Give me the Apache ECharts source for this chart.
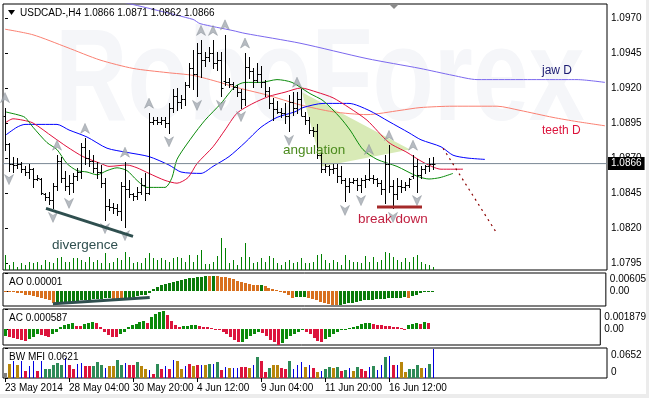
<html>
<head>
<meta charset="utf-8">
<script src="https://cdn.jsdelivr.net/npm/echarts@6/dist/echarts.min.js"></script>
<style>
  body { margin: 0; background: #fff; }
  #chart { width: 649px; height: 398px; }
</style>
</head>
<body>
<div id="chart"></div>
<script>
// ---- price bars (H4), index 0 = 23 May 2014 00:00
const barOpen = [1.0900,1.0880,1.0866,1.0865,1.0866,1.0862,1.0860,1.0862,1.0855,1.0855,
  1.0844,1.0842,1.0840,1.0850,1.0868,1.0856,1.0850,1.0852,1.0857,1.0860,
  1.0878,1.0870,1.0868,1.0863,1.0860,1.0852,1.0836,1.0835,1.0834,1.0832,
  1.0850,1.0848,1.0844,1.0843,1.0846,1.0851,1.0845,1.0896,1.0897,1.0896,
  1.0897,1.0895,1.0906,1.0914,1.0910,1.0912,1.0922,1.0934,1.0930,1.0945,
  1.0940,1.0942,1.0945,1.0938,1.0940,1.0925,1.0924,1.0923,1.0921,1.0917,
  1.0912,1.0935,1.0932,1.0926,1.0930,1.0924,1.0918,1.0909,1.0905,1.0903,
  1.0902,1.0900,1.0910,1.0906,1.0912,1.0900,1.0897,1.0890,1.0889,1.0872,
  1.0862,1.0864,1.0862,1.0863,1.0857,1.0854,1.0850,1.0853,1.0854,1.0851,
  1.0854,1.0855,1.0856,1.0855,1.0852,1.0848,1.0866,1.0850,1.0844,1.0850,
  1.0849,1.0851,1.0857,1.0864,1.0858,1.0862,1.0864,1.0866];
const barHigh = [1.0906,1.0881,1.0871,1.0870,1.0867,1.0864,1.0866,1.0863,1.0858,1.0856,
  1.0845,1.0846,1.0852,1.0872,1.0871,1.0861,1.0858,1.0859,1.0863,1.0881,
  1.0884,1.0876,1.0872,1.0867,1.0865,1.0856,1.0841,1.0838,1.0837,1.0853,
  1.0867,1.0854,1.0845,1.0849,1.0856,1.0859,1.0902,1.0899,1.0899,1.0899,
  1.0899,1.0909,1.0919,1.0920,1.0915,1.0924,1.0938,1.0947,1.0952,1.0954,
  1.0946,1.0949,1.0954,1.0946,1.0946,1.0958,1.0927,1.0924,1.0922,1.0919,
  1.0945,1.0942,1.0934,1.0938,1.0936,1.0926,1.0921,1.0913,1.0911,1.0906,
  1.0909,1.0915,1.0917,1.0917,1.0919,1.0903,1.0899,1.0892,1.0894,1.0874,
  1.0866,1.0865,1.0866,1.0866,1.0864,1.0856,1.0856,1.0856,1.0856,1.0856,
  1.0858,1.0869,1.0858,1.0856,1.0854,1.0872,1.0879,1.0854,1.0856,1.0854,
  1.0853,1.0856,1.0872,1.0869,1.0864,1.0865,1.0870,1.0871];
const barLow = [1.0876,1.0861,1.0860,1.0863,1.0860,1.0858,1.0856,1.0849,1.0854,1.0844,
  1.0840,1.0837,1.0834,1.0847,1.0853,1.0847,1.0844,1.0846,1.0854,1.0856,
  1.0866,1.0864,1.0860,1.0856,1.0849,1.0826,1.0833,1.0831,1.0829,1.0826,
  1.0821,1.0842,1.0840,1.0841,1.0844,1.0840,1.0844,1.0894,1.0894,1.0894,
  1.0892,1.0888,1.0903,1.0904,1.0906,1.0908,1.0921,1.0919,1.0914,1.0928,
  1.0936,1.0939,1.0934,1.0933,1.0914,1.0922,1.0921,1.0919,1.0914,1.0906,
  1.0908,1.0927,1.0921,1.0924,1.0921,1.0914,1.0906,1.0897,1.0902,1.0899,
  1.0895,1.0889,1.0901,1.0902,1.0901,1.0894,1.0888,1.0886,1.0870,1.0860,
  1.0860,1.0858,1.0859,1.0853,1.0852,1.0839,1.0846,1.0852,1.0847,1.0846,
  1.0849,1.0854,1.0852,1.0850,1.0844,1.0838,1.0846,1.0834,1.0841,1.0846,
  1.0847,1.0849,1.0856,1.0846,1.0856,1.0859,1.0861,1.0862];
const barClose = [1.0880,1.0866,1.0865,1.0866,1.0862,1.0860,1.0862,1.0855,1.0856,1.0845,
  1.0842,1.0840,1.0850,1.0868,1.0856,1.0850,1.0852,1.0857,1.0860,1.0878,
  1.0870,1.0868,1.0863,1.0860,1.0852,1.0836,1.0835,1.0834,1.0832,1.0850,
  1.0848,1.0844,1.0843,1.0846,1.0851,1.0845,1.0896,1.0897,1.0896,1.0897,
  1.0895,1.0906,1.0914,1.0910,1.0912,1.0922,1.0934,1.0930,1.0945,1.0940,
  1.0942,1.0945,1.0938,1.0940,1.0920,1.0924,1.0923,1.0921,1.0917,1.0912,
  1.0935,1.0932,1.0926,1.0930,1.0924,1.0918,1.0909,1.0905,1.0903,1.0902,
  1.0900,1.0910,1.0906,1.0912,1.0900,1.0897,1.0890,1.0889,1.0872,1.0862,
  1.0864,1.0862,1.0863,1.0857,1.0854,1.0850,1.0853,1.0854,1.0851,1.0854,
  1.0855,1.0856,1.0855,1.0852,1.0848,1.0866,1.0850,1.0844,1.0850,1.0849,
  1.0851,1.0855,1.0864,1.0858,1.0862,1.0864,1.0866,1.0866];
const tickVolume = [4500,1500,2400,900,2100,1500,2400,2100,2400,1500,
  3000,2400,2100,3600,3900,2400,2400,3600,3600,3000,
  2400,3900,2400,3000,2100,5100,2100,2400,3600,3000,
  5400,3900,2100,2400,2100,3600,5100,3600,3000,3600,
  3000,2400,3600,3900,3600,2400,4500,2400,4500,6000,
  1800,1800,2400,4200,9600,6600,2100,3000,1500,3900,
  8100,3900,2100,2400,3600,2400,4200,3600,2100,1500,
  2400,3000,2100,2400,3600,2100,2100,2400,4500,4800,
  3000,2100,3000,2400,1500,4500,3000,2400,2400,2100,
  4200,2400,3900,2400,3000,5400,5100,3900,3000,2400,
  3600,2400,3900,4500,2400,1800,1500,900];

// ---- Alligator H4 and D lines: [bar index, price]
const jawH4 = [[0,1.0886],[3,1.0892],[5,1.0894],[13,1.0894],[16,1.0890],[20.5,1.0885],[25.5,1.0877],[30.5,1.0874],[36,1.0871],[41,1.0865],[44,1.0860],[49,1.0859],[52,1.0864],[56,1.0871],[60,1.0881],[64,1.0892],[68,1.0899],[72.5,1.0903],[74.5,1.0906],[79.5,1.0909],[86,1.0909],[91,1.0904],[96,1.0896],[101,1.0888],[104,1.0883],[109,1.0878],[112,1.0872],[115.5,1.0870],[120,1.0869]];
const teethH4 = [[0,1.0895],[2,1.0898],[4.5,1.0897],[7,1.0895],[12,1.0885],[15.5,1.0878],[19.5,1.0871],[24,1.0866],[26,1.0864],[30.5,1.0865],[33,1.0863],[36,1.0859],[40,1.0854],[43,1.0852],[45.75,1.0856],[48,1.0866],[52,1.0878],[55,1.0890],[58,1.0902],[62,1.0909],[66,1.0914],[70,1.0917],[74,1.0920],[78,1.0917],[82,1.0913],[86,1.0906],[90.5,1.0897],[96,1.0881],[100.5,1.0874],[104.5,1.0867],[109,1.0862],[114.5,1.0862]];
const lipsH4 = [[0,1.0903],[3,1.0901],[5,1.0899],[7,1.0892],[10.5,1.0881],[13,1.0876],[15.5,1.0866],[18,1.0861],[20.5,1.0860],[23,1.0858],[25.5,1.0861],[28,1.0863],[30.5,1.0861],[33,1.0854],[35.5,1.0849],[40,1.0849],[41.75,1.0856],[43,1.0869],[46.75,1.0885],[50,1.0897],[54,1.0909],[57.5,1.0921],[60,1.0924],[64,1.0924],[68,1.0926],[71.75,1.0924],[76.25,1.0916],[79.5,1.0911],[83.75,1.0899],[86.25,1.0890],[89.5,1.0876],[93,1.0869],[98,1.0864],[103,1.0857],[106,1.0855],[108.75,1.0856],[112,1.0859]];
const jawD = [[30,1.0981],[47,1.0969],[48.75,1.0966],[57,1.0961],[60,1.0959],[73.75,1.0952],[90.5,1.0941],[103.75,1.0934],[112,1.0929],[118,1.0926],[128.75,1.0926],[137,1.0926],[143,1.0926],[150,1.0924]];
const teethD = [[0,1.0962],[7,1.0958],[15.5,1.0949],[23.75,1.0940],[32,1.0934],[40.5,1.0931],[47,1.0929],[53.75,1.0924],[57,1.0921],[65.5,1.0915],[73.75,1.0908],[82,1.0903],[90.5,1.0901],[98.75,1.0904],[103.75,1.0906],[112,1.0907],[123,1.0907],[128.75,1.0904],[137,1.0899],[143,1.0896],[150,1.0893]];

const upFractalBars = [0,13,20,30,36,49,52,55,60,73,91,96,102];
const downFractalBars = [1,12,16,25,30,41,48,54,59,71,85,89,97,103];

// ---- drawn objects
const currentPrice = 1.0866;
const priceLineSpan = [-0.5, 150.5];
const divergenceMain = [[10.25,1.0834],[32,1.0814]];
const divergenceAO = [[12,-0.0044],[36.25,-0.0023]];
const breakDownLine = [[93,1.0835],[104.25,1.0835]];
const projectionLine = [[109.5,1.0877],[123,1.0816]];
const angulationArea = [[74.25,1.0917],[101.25,1.0876],[79.25,1.0864]];

// ---- indicators
const aoValues = [-0.0001,-0.0003,-0.0004,-0.0006,-0.0009,-0.0013,-0.0016,-0.0019,-0.0021,-0.0024,
  -0.0028,-0.0033,-0.0043,-0.0042,-0.0041,-0.0039,-0.0037,-0.0036,-0.0034,-0.0033,
  -0.0031,-0.0030,-0.0029,-0.0028,-0.0027,-0.0026,-0.0025,-0.0027,-0.0029,-0.0030,
  -0.0028,-0.0025,-0.0022,-0.0019,-0.0016,-0.0013,-0.0009,0.0005,0.0012,0.0018,
  0.0023,0.0027,0.0029,0.0033,0.0036,0.0039,0.0042,0.0045,0.0047,0.0048,
  0.0050,0.0049,0.0050,0.0049,0.0048,0.0046,0.0043,0.0039,0.0034,0.0029,
  0.0025,0.0022,0.0020,0.0018,0.0019,0.0015,0.0011,0.0007,0.0003,-0.0003,
  -0.0009,-0.0015,-0.0023,-0.0022,-0.0021,-0.0020,-0.0024,-0.0029,-0.0033,-0.0037,
  -0.0041,-0.0045,-0.0048,-0.0049,-0.0048,-0.0046,-0.0043,-0.0040,-0.0037,-0.0035,
  -0.0033,-0.0031,-0.0030,-0.0029,-0.0028,-0.0027,-0.0026,-0.0025,-0.0024,-0.0023,
  -0.0022,-0.0024,-0.0019,-0.0015,-0.0008,-0.0004,-0.0002,0.00001];
const acValues = [-0.0006,-0.0007,-0.0008,-0.0009,-0.0010,-0.0011,-0.0009,-0.0007,-0.0004,-0.0005,
  -0.0006,-0.0007,-0.0004,-0.0002,0.0002,0.0004,0.0005,0.0006,0.0003,0.00028,
  0.0005,0.0006,0.0007,0.0006,0.0002,-0.0002,-0.0005,-0.0007,-0.00072,-0.0004,
  -0.0002,0.0002,0.0004,0.0005,0.0007,0.0008,0.0006,0.0011,0.0014,0.0016,
  0.0017,0.0013,0.0008,0.0004,0.0002,0.0003,0.00032,0.0004,0.00042,0.0003,
  0.0002,0.00018,0.0001,0.00005,-0.0001,-0.0002,-0.0004,-0.0007,-0.0010,-0.0012,
  -0.00118,-0.0009,-0.0006,-0.0004,-0.0002,-0.0003,-0.0006,-0.0010,-0.0012,-0.0014,
  -0.0013,-0.0009,-0.0006,-0.0004,-0.0002,-0.0001,-0.0002,-0.0004,-0.0008,-0.0011,
  -0.0012,-0.0009,-0.0007,-0.0004,-0.0002,-0.0001,0.00002,0.0001,0.0002,0.0003,
  0.0005,0.0006,0.00062,0.0005,0.0004,0.00038,0.0003,0.00028,0.0002,0.00018,
  0.0001,0.00008,0.0004,0.0005,0.0006,0.0005,0.0007,0.000587];
const mfiValues = [0.011,0.031,0.038,0.028,0.038,0.016,0.027,0.037,0.016,0.038,
  0.020,0.020,0.029,0.032,0.029,0.044,0.029,0.020,0.031,0.033,
  0.027,0.027,0.027,0.035,0.029,0.022,0.027,0.027,0.040,0.029,
  0.033,0.029,0.029,0.034,0.025,0.020,0.018,0.009,0.031,0.020,
  0.027,0.020,0.039,0.037,0.020,0.027,0.031,0.027,0.029,0.029,
  0.029,0.031,0.031,0.035,0.017,0.024,0.022,0.022,0.022,0.024,
  0.024,0.022,0.029,0.045,0.038,0.013,0.022,0.029,0.029,0.022,
  0.020,0.038,0.020,0.029,0.035,0.024,0.029,0.022,0.013,0.016,
  0.020,0.024,0.022,0.024,0.016,0.018,0.022,0.016,0.024,0.020,
  0.016,0.024,0.025,0.018,0.029,0.045,0.047,0.029,0.029,0.035,
  0.013,0.020,0.020,0.029,0.022,0.022,0.031,0.0621];
// g = green, b = fade (brown), u = fake (blue), r = squat (red), n = none
const mfiZones = ('nbuburuuru' + 'gggggurruu' + 'rrgggubbgg' + 'urrgbburgr' + 'urubburbru' +
  'bgugrubuur' + 'rbugrrgbbr' + 'rguuuburbu' + 'ggbgrgubgr' + 'ruguugurub' + 'bgggbugu').split('');

// ---- axes
const priceTicks = [1.0795, 1.0820, 1.0845, 1.0870, 1.0895, 1.0920, 1.0945, 1.0970];
const aoTicks = [-0.00519, 0, 0.00605];
const aoTickLabels = ['-0.00519', '0.00', '0.00605'];
const acTicks = [-0.00144, 0, 0.001879];
const acTickLabels = ['-0.00144', '0.00', '0.001879'];
const mfiTicks = [0, 0.0652];
const mfiTickLabels = ['0', '0.0652'];
const dateBars = [0, 16, 32, 48, 64, 80, 96];
const dateLabels = ['23 May 2014', '28 May 04:00', '30 May 20:00', '4 Jun 12:00', '9 Jun 04:00', '11 Jun 20:00', '16 Jun 12:00'];

const FONT = 'Liberation Sans';
const chart = echarts.init(document.getElementById('chart'));

function renderOhlc(params, api) {
  const i = api.value(0);
  const pO = api.coord([i, api.value(1)]);
  const pH = api.coord([i, api.value(2)]);
  const pL = api.coord([i, api.value(3)]);
  const pC = api.coord([i, api.value(4)]);
  const x = Math.round(pH[0]) + 0.5;
  const yo = Math.round(pO[1]) + 0.5;
  const yc = Math.round(pC[1]) + 0.5;
  const st = { stroke: '#000', lineWidth: 1 };
  return {
    type: 'group',
    children: [
      { type: 'line', shape: { x1: x, y1: Math.round(pH[1]), x2: x, y2: Math.round(pL[1]) + 1 }, style: st },
      { type: 'line', shape: { x1: x - 2, y1: yo, x2: x, y2: yo }, style: st },
      { type: 'line', shape: { x1: x, y1: yc, x2: x + 2, y2: yc }, style: st }
    ]
  };
}

function histRender(widthOf) {
  return function (params, api) {
    const i = api.value(0);
    const top = api.coord([i, api.value(1)]);
    const base = api.coord([i, 0]);
    const w = widthOf(params.dataIndex);
    const x = Math.round(top[0]) - Math.floor(w / 2);
    const y0 = Math.round(Math.min(top[1], base[1]));
    const y1 = Math.round(Math.max(top[1], base[1]));
    return {
      type: 'rect',
      shape: { x: x, y: y0, width: w, height: Math.max(1, y1 - y0) },
      style: { fill: api.visual('color') }
    };
  };
}

function renderTriangle(params, api) {
  const pts = angulationArea.map(p => api.coord(p));
  return { type: 'polygon', shape: { points: pts }, style: { fill: '#d8eab6' } };
}

function subAxis(gridIndex, ticks, labels, padTop, padBottom) {
  const min = ticks[0], max = ticks[ticks.length - 1];
  return {
    type: 'value', gridIndex: gridIndex, position: 'right', min: min, max: max,
    splitLine: { show: false }, axisLine: { show: false },
    axisTick: { show: true, length: 3, customValues: ticks, lineStyle: { color: '#000' } },
    axisLabel: {
      customValues: ticks, margin: 4, color: '#000', fontSize: 10, fontFamily: FONT,
      formatter: function (v) {
        let k = 0;
        ticks.forEach((t, j) => { if (Math.abs(t - v) < Math.abs(ticks[k] - v)) k = j; });
        if (k === ticks.length - 1) return '{t|' + labels[k] + '}';
        if (k === 0) return '{b|' + labels[k] + '}';
        return labels[k];
      },
      rich: {
        t: { padding: [padTop, 0, 0, 0], fontSize: 10, fontFamily: FONT, color: '#000' },
        b: { padding: [0, 0, padBottom, 0], fontSize: 10, fontFamily: FONT, color: '#000' }
      }
    }
  };
}

const gridBase = { left: 3, width: 604, show: true, borderColor: '#000', borderWidth: 1, backgroundColor: 'transparent' };
const hiddenX = (g) => ({ type: 'value', gridIndex: g, min: -0.5, max: 150.5, show: false });

const GREEN_AO = '#0a7a0a', ORANGE_AO = '#d8701e';
const GREEN_AC = '#0a8a0a', RED_AC = '#dc143c';
const mfiColors = { g: '#2e8b57', b: '#b8860b', u: '#0000e0', r: '#dc143c', n: '#808080' };

const lineSeries = (name, data, color, width) => ({
  name: name, type: 'line', xAxisIndex: 0, yAxisIndex: 0, data: data,
  symbol: 'none', smooth: 0.25, z: 3,
  lineStyle: { color: color, width: width || 1 }
});

const option = {
  animation: false,
  textStyle: { fontFamily: FONT },
  grid: [
    Object.assign({ top: 4, height: 266 }, gridBase),
    Object.assign({ top: 273, height: 33 }, gridBase),
    Object.assign({ top: 309, height: 36 }, gridBase),
    Object.assign({ top: 348, height: 30 }, gridBase)
  ],
  xAxis: [
    hiddenX(0), hiddenX(1), hiddenX(2),
    {
      type: 'value', gridIndex: 3, min: -0.5, max: 150.5,
      splitLine: { show: false }, axisLine: { show: false },
      axisTick: { show: true, length: 4, customValues: dateBars, lineStyle: { color: '#000' } },
      axisLabel: {
        customValues: dateBars, align: 'left', margin: 5, color: '#000', fontSize: 10, fontFamily: FONT,
        formatter: v => dateLabels[dateBars.indexOf(Math.round(v))] || ''
      }
    }
  ],
  yAxis: [
    {
      type: 'value', gridIndex: 0, position: 'right', min: 1.0790, max: 1.0980,
      splitLine: { show: false }, axisLine: { show: false },
      axisTick: { show: true, length: 3, customValues: priceTicks, lineStyle: { color: '#000' } },
      axisLabel: { customValues: priceTicks, margin: 4, color: '#000', fontSize: 10, fontFamily: FONT, formatter: v => v.toFixed(4) }
    },
    { type: 'value', gridIndex: 0, min: 0, max: 79800, show: false },
    subAxis(1, aoTicks, aoTickLabels, 12, 12),
    subAxis(2, acTicks, acTickLabels, 16, 14),
    subAxis(3, mfiTicks, mfiTickLabels, 14, 12)
  ],
  graphic: [
    { type: 'rect', shape: { x: 646, y: 0, width: 3, height: 398 }, style: { fill: '#ececec' }, z: 50 },
    { type: 'rect', shape: { x: 0, y: 394, width: 649, height: 4 }, style: { fill: '#ececec' }, z: 50 },
    { type: 'text', x: 55, y: 84, scaleX: 0.76, z: 0,
      style: { text: 'RoboForex', font: 'bold 132px "Liberation Sans"', fill: '#f5f6f9', verticalAlign: 'middle' } },
    { type: 'polygon', shape: { points: [[8, 10], [15, 10], [11.5, 15]] }, style: { fill: '#000' }, z: 60 },
    { type: 'text', x: 20, y: 13, z: 60,
      style: { text: 'USDCAD-,H4 1.0866 1.0871 1.0862 1.0866', font: '10px "Liberation Sans"', fill: '#000', verticalAlign: 'middle' } },
    { type: 'polygon', shape: { points: [[389, 4], [399, 4], [394, 9]] }, style: { fill: '#8a8a8a' }, z: 60 },
    { type: 'text', x: 9, y: 282, z: 60, style: { text: 'AO 0.00001', font: '10px "Liberation Sans"', fill: '#000', verticalAlign: 'middle' } },
    { type: 'text', x: 9, y: 318, z: 60, style: { text: 'AC 0.000587', font: '10px "Liberation Sans"', fill: '#000', verticalAlign: 'middle' } },
    { type: 'text', x: 9, y: 357, z: 60, style: { text: 'BW MFI 0.0621', font: '10px "Liberation Sans"', fill: '#000', verticalAlign: 'middle' } },
    { type: 'text', x: 52, y: 245, z: 60, style: { text: 'divergence', font: '13.5px "Liberation Sans"', fill: '#2f4f4f', verticalAlign: 'middle' } },
    { type: 'text', x: 283, y: 150, z: 60, style: { text: 'angulation', font: '13.5px "Liberation Sans"', fill: '#4a8a1c', verticalAlign: 'middle' } },
    { type: 'text', x: 358, y: 219, z: 60, style: { text: 'break down', font: '13.5px "Liberation Sans"', fill: '#c02040', verticalAlign: 'middle' } },
    { type: 'text', x: 542, y: 71, z: 60, style: { text: 'jaw D', font: '12px "Liberation Sans"', fill: '#191970', verticalAlign: 'middle' } },
    { type: 'text', x: 542, y: 131, z: 60, style: { text: 'teeth D', font: '12px "Liberation Sans"', fill: '#dc143c', verticalAlign: 'middle' } }
  ],
  series: [
    { type: 'custom', xAxisIndex: 0, yAxisIndex: 0, data: [[0, 0]], renderItem: renderTriangle, z: 1, silent: true },
    {
      type: 'custom', xAxisIndex: 0, yAxisIndex: 1, z: 2,
      data: tickVolume.map((v, i) => ({ value: [i, v], itemStyle: { color: '#008000' } })),
      encode: { x: 0, y: 1 }, renderItem: histRender(() => 1)
    },
    {
      // current price line with its price box
      type: 'line', xAxisIndex: 0, yAxisIndex: 0, z: 4, symbol: 'none', silent: true,
      data: priceLineSpan.map(x => [x, currentPrice]),
      lineStyle: { color: '#7a8794', width: 1 },
      endLabel: {
        show: true, distance: 1, formatter: () => currentPrice.toFixed(4),
        backgroundColor: '#000', color: '#fff', padding: [2, 3, 1, 3], fontSize: 10, fontFamily: FONT
      }
    },
    lineSeries('teeth D', teethD, '#fa8072'),
    lineSeries('jaw D', jawD, '#7b68ee'),
    lineSeries('jaw', jawH4, '#0000ff'),
    lineSeries('teeth', teethH4, '#e0103c'),
    lineSeries('lips', lipsH4, '#0a8a0a'),
    {
      type: 'custom', xAxisIndex: 0, yAxisIndex: 0, z: 5,
      data: barOpen.map((o, i) => [i, o, barHigh[i], barLow[i], barClose[i]]),
      encode: { x: 0, y: [1, 2, 3, 4] }, renderItem: renderOhlc
    },
    {
      type: 'scatter', xAxisIndex: 0, yAxisIndex: 0, z: 6,
      data: upFractalBars.map(i => [i, barHigh[i]]),
      symbol: 'path://M5,0 L10,10 L5,7 L0,10 Z', symbolSize: [9, 10], symbolOffset: [0, -10],
      itemStyle: { color: '#a4aab2', borderColor: '#7e848c', borderWidth: 0.5 }
    },
    {
      type: 'scatter', xAxisIndex: 0, yAxisIndex: 0, z: 6,
      data: downFractalBars.map(i => [i, barLow[i]]),
      symbol: 'path://M0,0 L5,3 L10,0 L5,10 Z', symbolSize: [9, 10], symbolOffset: [0, 9],
      itemStyle: { color: '#a4aab2', borderColor: '#7e848c', borderWidth: 0.5 }
    },
    { type: 'line', xAxisIndex: 0, yAxisIndex: 0, z: 7, data: divergenceMain, symbol: 'none', lineStyle: { color: '#2f4f4f', width: 3 } },
    { type: 'line', xAxisIndex: 0, yAxisIndex: 0, z: 7, data: breakDownLine, symbol: 'none', lineStyle: { color: '#a52a2a', width: 3 } },
    { type: 'line', xAxisIndex: 0, yAxisIndex: 0, z: 7, data: projectionLine, symbol: 'none', lineStyle: { color: '#8b0000', width: 1.2, type: [2, 4] } },
    {
      type: 'custom', xAxisIndex: 1, yAxisIndex: 2,
      data: aoValues.map((v, i) => ({ value: [i, v], itemStyle: { color: i > 0 && v > aoValues[i - 1] ? GREEN_AO : ORANGE_AO } })),
      encode: { x: 0, y: 1 }, renderItem: histRender(() => 3)
    },
    { type: 'line', xAxisIndex: 1, yAxisIndex: 2, z: 7, data: divergenceAO, symbol: 'none', lineStyle: { color: '#2f4f4f', width: 3 } },
    {
      type: 'custom', xAxisIndex: 2, yAxisIndex: 3,
      data: acValues.map((v, i) => ({ value: [i, v], itemStyle: { color: i === 0 || v > acValues[i - 1] ? GREEN_AC : RED_AC } })),
      encode: { x: 0, y: 1 }, renderItem: histRender(() => 3)
    },
    {
      type: 'custom', xAxisIndex: 3, yAxisIndex: 4,
      data: mfiValues.map((v, i) => ({ value: [i, v], itemStyle: { color: mfiColors[mfiZones[i]] } })),
      encode: { x: 0, y: 1 }, renderItem: histRender(k => mfiZones[k] === 'u' ? 1 : 3)
    }
  ]
};

chart.setOption(option);
</script>
</body>
</html>
